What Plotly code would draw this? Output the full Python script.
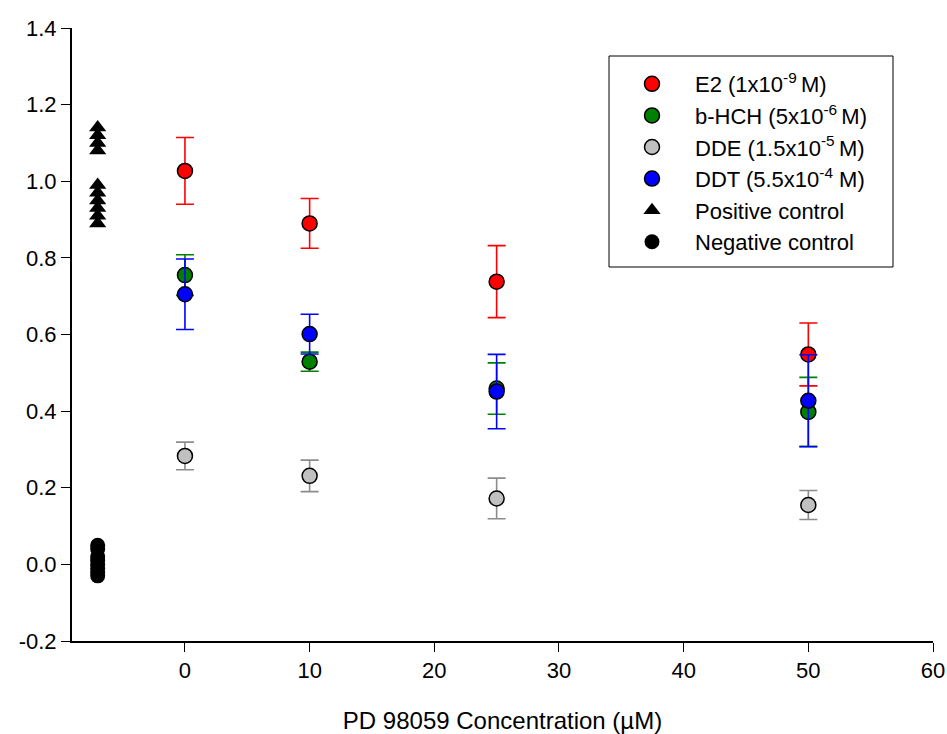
import plotly.graph_objects as go

# PD 98059 concentrations (µM)
conc = [0, 10, 25, 50]

# Mean response and error for each compound
e2_mean = [1.027, 0.890, 0.738, 0.548]
e2_err = [0.087, 0.065, 0.094, 0.082]

bhch_mean = [0.755, 0.529, 0.459, 0.398]
bhch_err = [0.053, 0.025, 0.067, 0.090]

dde_mean = [0.283, 0.231, 0.172, 0.155]
dde_err = [0.036, 0.041, 0.053, 0.038]

ddt_mean = [0.705, 0.601, 0.451, 0.427]
ddt_err = [0.092, 0.052, 0.097, 0.120]

# Individual control wells, plotted at the left of the axis
control_x = -7
pos_control = [1.14, 1.12, 1.10, 1.08, 0.99, 0.97, 0.95, 0.93, 0.91, 0.89]
neg_control = [0.05, 0.04, 0.02, 0.01, 0.00, -0.01, -0.02, -0.03]

# Axis ticks
y_ticks = [-0.2, 0.0, 0.2, 0.4, 0.6, 0.8, 1.0, 1.2, 1.4]
y_tick_text = ["-0.2", "0.0", "0.2", "0.4", "0.6", "0.8", "1.0", "1.2", "1.4"]
x_ticks = [0, 10, 20, 30, 40, 50, 60]

FONT = "Arial, 'Liberation Sans', sans-serif"

W, H = 947, 734
ML, MR, MT, MB = 72, 14, 28, 93
PW, PH = W - ML - MR, H - MT - MB


def px_x(p):
    return (p - ML) / PW


def px_y(p):
    return 1 - (p - MT) / PH


series = [
    ("E2 (1x10<sup>-9 </sup>M)", e2_mean, e2_err, "#ff0000", "#ff0000"),
    ("b-HCH (5x10<sup>-6 </sup>M)", bhch_mean, bhch_err, "#008000", "#008000"),
    ("DDE (1.5x10<sup>-5 </sup>M)", dde_mean, dde_err, "#c0c0c0", "#8c8c8c"),
    ("DDT (5.5x10<sup>-4</sup> M)", ddt_mean, ddt_err, "#0000ff", "#0000ff"),
]

fig = go.Figure()

for name, mean, err, fill, bar_col in series:
    fig.add_trace(go.Scatter(
        x=conc, y=mean, mode="markers", name=name,
        marker=dict(color=fill, size=15, line=dict(color="black", width=1.5)),
        error_y=dict(type="data", array=err, visible=True,
                     color=bar_col, thickness=1.6, width=9),
    ))

fig.add_trace(go.Scatter(
    x=[control_x] * len(pos_control), y=pos_control, mode="markers",
    name="Positive control",
    marker=dict(symbol="triangle-up", color="black", size=15),
))
fig.add_trace(go.Scatter(
    x=[control_x] * len(neg_control), y=neg_control, mode="markers",
    name="Negative control",
    marker=dict(symbol="circle", color="black", size=15),
))

# Frame around the legend
fig.add_shape(type="rect", xref="paper", yref="paper",
              x0=px_x(609), x1=px_x(893), y0=px_y(267), y1=px_y(56),
              line=dict(color="black", width=1), fillcolor="white", layer="below")

fig.update_layout(
    width=W, height=H,
    margin=dict(l=ML, r=MR, t=MT, b=MB, autoexpand=False),
    plot_bgcolor="white", paper_bgcolor="white",
    font=dict(family=FONT, size=22, color="black"),
    showlegend=True,
    legend=dict(
        x=px_x(609), y=px_y(63), xanchor="left", yanchor="top",
        bgcolor="rgba(0,0,0,0)", borderwidth=0,
        font=dict(family=FONT, size=22, color="black"),
        itemwidth=76,
    ),
    xaxis=dict(
        range=[-9.06, 60], tickvals=x_ticks, ticks="outside", ticklen=9,
        tickwidth=1, tickcolor="black", showline=True, linecolor="black",
        linewidth=2, showgrid=False, zeroline=False, automargin=False,
        title=dict(text="PD 98059 Concentration (µM)",
                   font=dict(family=FONT, size=24), standoff=31),
        tickfont=dict(family=FONT, size=22),
    ),
    yaxis=dict(
        range=[-0.2, 1.4], tickvals=y_ticks, ticktext=y_tick_text,
        ticks="outside", ticklen=9, tickwidth=1, tickcolor="black",
        showline=True, linecolor="black", linewidth=2, showgrid=False,
        zeroline=False, automargin=False, tickfont=dict(family=FONT, size=22),
    ),
)

fig.write_html("out.html")
